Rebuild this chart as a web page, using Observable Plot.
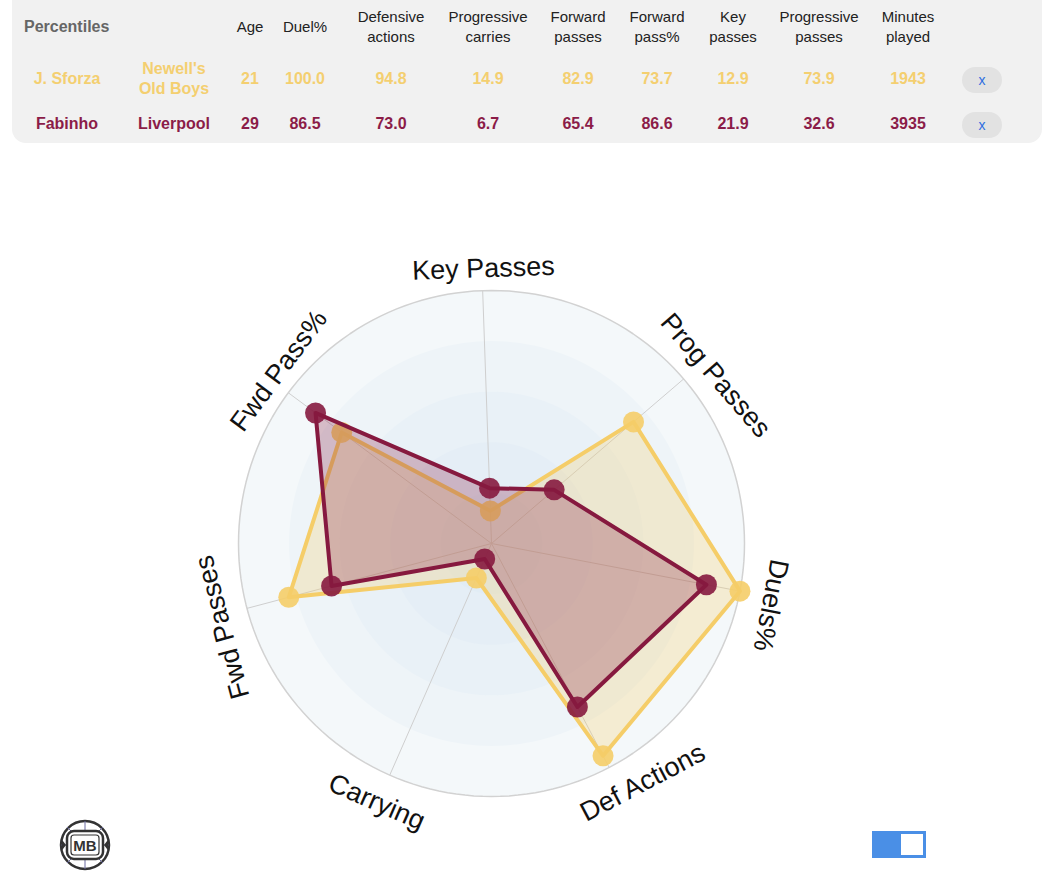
<!DOCTYPE html>
<html><head><meta charset="utf-8">
<script src="https://cdn.jsdelivr.net/npm/d3@7"></script>
<script src="https://cdn.jsdelivr.net/npm/@observablehq/plot@0.6"></script>
<style>
body{margin:0;background:#fff;font-family:"Liberation Sans",Arial,Helvetica,sans-serif;}
#page{position:relative;width:1050px;height:896px;overflow:hidden;background:#fff;}
#panel{position:absolute;left:12px;top:-14px;width:1030px;height:157px;background:#f1f1f1;border-radius:14px;}
.cell{position:absolute;transform:translate(-50%,-50%);text-align:center;white-space:pre;line-height:20px;}
.hdr{font-size:15px;color:#222;}
.row{font-size:16px;font-weight:bold;}
.btn{position:absolute;width:40px;height:26px;border-radius:13px;background:#e2e2e2;transform:translate(-50%,-50%);color:#2f6fe0;font-size:14px;text-align:center;line-height:26px;}
#chart{position:absolute;left:0;top:150px;}
#toggle{position:absolute;left:872px;top:831px;width:54px;height:27px;background:#4a8fe6;}
#toggle div{position:absolute;right:3px;top:3px;width:22px;height:21px;background:#fff;}
#logo{position:absolute;left:58px;top:818px;}
</style></head>
<body><div id="page"><div id="panel"></div><div id="chart"></div>
<div id="toggle"><div></div></div>
<svg id="logo" width="54" height="54" viewBox="0 0 54 54">
<circle cx="27" cy="27" r="24" fill="#fff" stroke="#333" stroke-width="2.5"/>
<path d="M27 3 V13 M27 41 V51 M3 27 H9 M45 27 H51 M9 9 L14 14 M45 9 L40 14 M9 45 L14 40 M45 45 L40 40" stroke="#6a6aa0" stroke-width="1"/>
<path d="M3.5 21 L8 27 L3.5 33 Z M50.5 21 L46 27 L50.5 33 Z" fill="#333"/>
<rect x="9" y="13" width="36" height="28" rx="7" fill="#fff" stroke="#333" stroke-width="2.5"/>
<rect x="13" y="17" width="28" height="20" rx="3" fill="none" stroke="#333" stroke-width="1.2"/>
<text x="27" y="33" text-anchor="middle" font-family="Liberation Sans, Arial" font-weight="bold" font-size="15" fill="#333">MB</text>
</svg>
</div>
<script>
// ---- data ----
const players = ["J. Sforza", "Fabinho"];
const teams = ["Newell's\nOld Boys", "Liverpool"];
const ages = [21, 29];
const minutesPlayed = [1943, 3935];
const metricHeaders = ["Duel%", "Defensive\nactions", "Progressive\ncarries", "Forward\npasses", "Forward\npass%", "Key\npasses", "Progressive\npasses"];
const sforzaValues = [100.0, 94.8, 14.9, 82.9, 73.7, 12.9, 73.9];
const fabinhoValues = [86.5, 73.0, 6.7, 65.4, 86.6, 21.9, 32.6];
const radarLabels = ["Key Passes", "Prog Passes", "Duels%", "Def Actions", "Carrying", "Fwd Passes", "Fwd Pass%"];
const radarMetricIndex = [5, 6, 0, 1, 2, 3, 4];
const ringTicks = [100, 80, 60, 40, 20];

// ---- layout/style ----
const labelAngleShift = [0.3, 3.7, 1.6, -4.6, 0.2, -2.4, 2.5];
const labelRadiusPx = [275, 280, 286, 283, 283, 282, 274];
const colors = ["#f5cd68", "#86193f"];
const textColors = ["#f4cf70", "#8b1c48"];
const page = document.getElementById("page");
function addCell(cls, text, x, y, color) {
  const d = document.createElement("div");
  d.className = "cell " + cls;
  d.textContent = text;
  d.style.left = x + "px"; d.style.top = y + "px";
  if (color) d.style.color = color;
  page.appendChild(d);
  return d;
}
const perc = addCell("hdr", "Percentiles", 24, 27, "#666");
perc.style.transform = "translate(0,-50%)"; perc.style.fontWeight = "bold"; perc.style.fontSize = "16px";
const headers = ["Age", ...metricHeaders, "Minutes\nplayed"];
const colX = [250, 305, 391, 488, 578, 657, 733, 819, 908];
headers.forEach((h, i) => addCell("hdr", h, colX[i], 27));
const rowY = [79, 124];
const allValues = [sforzaValues, fabinhoValues];
players.forEach((p, r) => {
  const c = textColors[r];
  addCell("row", p, 67, rowY[r], c);
  addCell("row", teams[r], 174, rowY[r], c);
  addCell("row", String(ages[r]), colX[0], rowY[r], c);
  allValues[r].forEach((v, j) => addCell("row", v.toFixed(1), colX[j + 1], rowY[r], c));
  addCell("row", String(minutesPlayed[r]), colX[8], rowY[r], c);
  const b = document.createElement("div");
  b.className = "btn"; b.textContent = "x";
  b.style.left = "982px"; b.style.top = (rowY[r] + 1) + "px";
  page.appendChild(b);
});

// ---- radar ----
const W = 1050, H = 746, cx = 491, cy = 393, k = 2.53;
const rot = -2;
const n = radarLabels.length;
const angDeg = i => i * 360 / n + rot;
const ang = i => angDeg(i) * Math.PI / 180;
const pt = (r, a) => [r * Math.sin(a), r * Math.cos(a)];

const radarData = [];
players.forEach((p, s) => {
  radarLabels.forEach((lab, i) => {
    const v = allValues[s][radarMetricIndex[i]];
    const [x, y] = pt(v, ang(i));
    radarData.push({player: p, axis: lab, value: v, x, y});
  });
});
const circlePts = r => d3.range(0, 360, 2).map(d => { const [x, y] = pt(r, d * Math.PI / 180); return {r, x, y}; });
const ringFills = ["#f4f8fa", "#eef4f8", "#e9f1f7", "#e5eef6", "#e1ecf5"];
const spokes = radarLabels.map((lab, i) => { const [x2, y2] = pt(100, ang(i)); return {x1: 0, y1: 0, x2, y2}; });
const labelData = radarLabels.map((lab, i) => {
  const a = (angDeg(i) + labelAngleShift[i]) * Math.PI / 180;
  const [x, y] = pt(labelRadiusPx[i] / k, a);
  let deg = angDeg(i);
  if (deg > 180) deg -= 360;
  if (Math.cos(ang(i)) < -0.5) deg += (deg > 0 ? -180 : 180);
  return {lab, x, y, deg};
});

const marks = [];
ringTicks.forEach((t, j) => marks.push(Plot.line(circlePts(t), {x: "x", y: "y", curve: "linear-closed", fill: ringFills[j], stroke: "none"})));
marks.push(Plot.line(circlePts(100), {x: "x", y: "y", curve: "linear-closed", stroke: "#d2d2d2", strokeWidth: 1.5}));
marks.push(Plot.link(spokes, {x1: "x1", y1: "y1", x2: "x2", y2: "y2", stroke: "#cfcfcf", strokeWidth: 1}));
players.forEach((p, s) => {
  const d = radarData.filter(r => r.player === p);
  marks.push(Plot.line(d, {x: "x", y: "y", curve: "linear-closed", fill: colors[s], fillOpacity: 0.27, stroke: colors[s], strokeWidth: 4, strokeLinejoin: "round"}));
  marks.push(Plot.dot(d, {x: "x", y: "y", r: 10.5, fill: colors[s], fillOpacity: 0.9, stroke: "none"}));
});
marks.push(Plot.text(labelData, {x: "x", y: "y", text: "lab", rotate: "deg", fontSize: 27, fill: "#111", textAnchor: "middle", lineAnchor: "middle", fontFamily: "Liberation Sans, Arial, Helvetica, sans-serif"}));

const chart = Plot.plot({
  width: W, height: H, margin: 0,
  x: {domain: [-cx / k, (W - cx) / k], axis: null},
  y: {domain: [-(H - cy) / k, cy / k], axis: null},
  style: {background: "transparent", overflow: "visible"},
  marks
});
document.getElementById("chart").appendChild(chart);
</script></body></html>
